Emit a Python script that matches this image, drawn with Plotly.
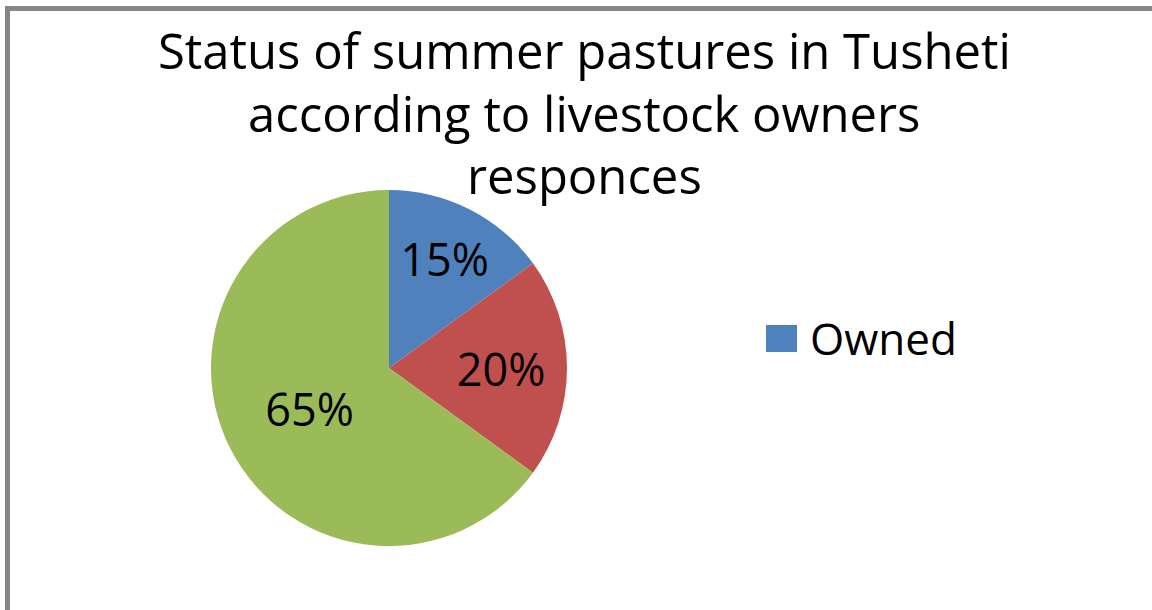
import plotly.graph_objects as go

# ---- data ----
labels = ["Owned", "Rented", "Common"]
values = [15, 20, 65]
colors = ["#4F81BD", "#C0504D", "#9BBB59"]
title_lines = ["Status of summer pastures in Tusheti",
               "according to livestock owners",
               "responces"]
legend_shown = ["Owned"]

W, H = 1152, 610
FONT = "Open Sans"

def px_x(x):
    return x / W

def px_y(y):
    return 1 - y / H

cx, cy, r = 389, 368, 178

fig = go.Figure(go.Pie(
    labels=labels,
    values=values,
    sort=False,
    direction="clockwise",
    rotation=0,
    marker=dict(colors=colors, line=dict(width=0)),
    textinfo="percent",
    textposition="inside",
    insidetextorientation="horizontal",
    textfont=dict(family=FONT, size=45, color="black"),
    showlegend=False,
    domain=dict(x=[px_x(cx - r), px_x(cx + r)], y=[px_y(cy + r), px_y(cy - r)]),
))

annotations = []
baselines = [67, 130, 192]
for line, base in zip(title_lines, baselines):
    annotations.append(dict(
        text=line, x=px_x(584), y=px_y(base - 17), xref="paper", yref="paper",
        xanchor="center", yanchor="middle", showarrow=False,
        font=dict(family=FONT, size=49, color="black")))

# legend entry (only the first item is visible in the original)
annotations.append(dict(
    text=legend_shown[0], x=px_x(808), y=px_y(338), xref="paper", yref="paper",
    xanchor="left", yanchor="middle", showarrow=False,
    font=dict(family=FONT, size=44, color="black")))

shapes = [
    dict(type="rect", xref="paper", yref="paper",
         x0=px_x(766), x1=px_x(797), y0=px_y(352), y1=px_y(325),
         fillcolor=colors[0], line=dict(width=0)),
    dict(type="rect", xref="paper", yref="paper",
         x0=px_x(7.5), x1=1.05, y0=-0.05, y1=px_y(8.5),
         fillcolor="rgba(0,0,0,0)", line=dict(color="#868686", width=5)),
]

fig.update_layout(
    width=W, height=H,
    margin=dict(l=0, r=0, t=0, b=0),
    paper_bgcolor="white",
    plot_bgcolor="white",
    annotations=annotations,
    shapes=shapes,
)

fig.write_html("out.html")
